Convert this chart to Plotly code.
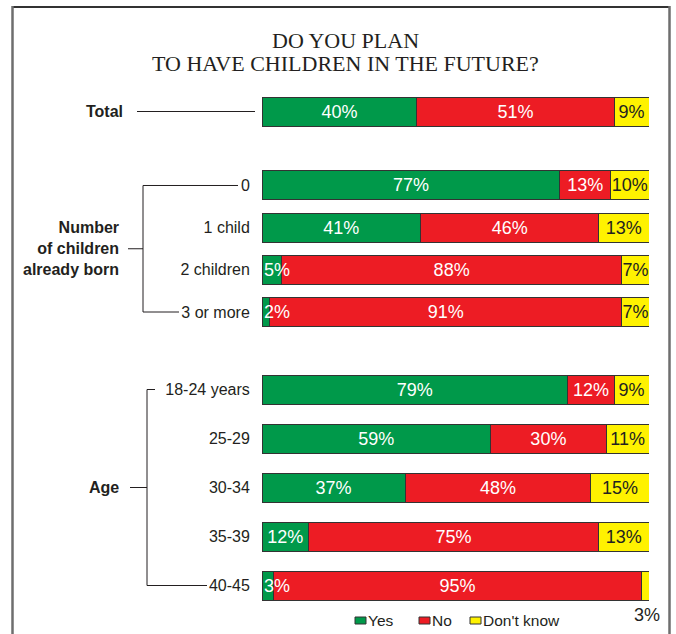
import plotly.graph_objects as go

# ---- data ----
title_lines = ["DO YOU PLAN", "TO HAVE CHILDREN IN THE FUTURE?"]
series = ["Yes", "No", "Don't know"]
series_colors = ["#00994A", "#ED1C24", "#FFF200"]
label_colors = ["white", "white", "#231F20"]

total_rows = ["Total"]
total_yes = [40]
total_no = [51]
total_dk = [9]

children_title = "Number<br>of children<br>already born"
children_rows = ["0", "1 child", "2 children", "3 or more"]
children_yes = [77, 41, 5, 2]
children_no = [13, 46, 88, 91]
children_dk = [10, 13, 7, 7]

age_title = "Age"
age_rows = ["18-24 years", "25-29", "30-34", "35-39", "40-45"]
age_yes = [79, 59, 37, 12, 3]
age_no = [12, 30, 48, 75, 95]
age_dk = [9, 11, 15, 13, 3]

# ---- layout helpers (pixel -> paper) ----
W, H = 676, 634
def px(x):
    return x / W
def py(y):
    return 1 - y / H

INK = "#231F20"
FONT = "Liberation Sans, Arial, sans-serif"
X_DOMAIN = [px(262), px(649)]
BAR_PX = 29
MIN_INSIDE = 6  # segments narrower than this get their label placed outside the bar

groups = [
    # (axis suffix, rows, series values, top px, bottom px, show tick labels)
    ("", total_rows, [total_yes, total_no, total_dk], 90.3, 132.7, False),
    ("2", children_rows, [children_yes, children_no, children_dk], 164.4, 333.1, True),
    ("3", age_rows, [age_yes, age_no, age_dk], 365.0, 610.0, True),
]

fig = go.Figure()
annotations = []
shapes = []

for suffix, rows, values, top, bottom, show_ticks in groups:
    n = len(rows)
    step = (bottom - top) / n
    width = BAR_PX / step
    xa, ya = "x" + suffix, "y" + suffix
    for s, (name, vals) in enumerate(zip(series, values)):
        positions = ["inside" if v >= MIN_INSIDE else "none" for v in vals]
        fig.add_trace(go.Bar(
            name=name, orientation="h", x=vals, y=rows,
            xaxis=xa, yaxis=ya, width=width,
            marker=dict(color=series_colors[s], line=dict(color="#333333", width=1)),
            text=[f"{v}%" for v in vals], textposition=positions, textangle=0,
            insidetextanchor="middle", constraintext="none",
            textfont=dict(family=FONT, size=18, color=label_colors[s]),
            showlegend=False, hoverinfo="skip",
        ))
    # labels of narrow segments
    for i, row in enumerate(rows):
        start = 0
        for s, vals in enumerate(values):
            v = vals[i]
            if v < MIN_INSIDE:
                if s == 0:
                    annotations.append(dict(
                        x=start, y=i, xref=xa, yref=ya, text=f"{v}%",
                        xanchor="left", yanchor="middle", showarrow=False,
                        font=dict(family=FONT, size=18, color=label_colors[s])))
                else:
                    annotations.append(dict(
                        x=start + v / 2, y=i, xref=xa, yref=ya, text=f"{v}%",
                        xanchor="center", yanchor="top", yshift=-17, showarrow=False,
                        font=dict(family=FONT, size=18, color=INK)))
            start += v

    fig.update_layout({
        "xaxis" + suffix: dict(domain=X_DOMAIN, range=[0, 100], visible=False,
                               anchor=ya, fixedrange=True),
        "yaxis" + suffix: dict(domain=[py(bottom), py(top)], type="category",
                               categoryorder="array", categoryarray=rows,
                               range=[n - 0.5, -0.5], anchor=xa,
                               showgrid=False, zeroline=False, showline=False,
                               showticklabels=show_ticks, ticks="outside",
                               ticklen=8, tickcolor="rgba(0,0,0,0)",
                               tickfont=dict(family=FONT, size=16, color=INK)),
    })

# ---- group labels and brackets ----
line = dict(color=INK, width=1)

annotations.append(dict(x=px(125), y=0, xref="paper", yref="y", text="<b>Total</b>",
                        xanchor="right", yanchor="middle", showarrow=False,
                        font=dict(family=FONT, size=16, color=INK)))
shapes.append(dict(type="line", xref="paper", yref="y", x0=px(137), x1=px(255),
                   y0=0, y1=0, line=line))

def bracket(ya, rows, label, x_vert, x_stub0, x_top_end, x_bot_end):
    last = len(rows) - 1
    annotations.append(dict(x=px(121), y=0.5, xref="paper", yref=ya + " domain",
                            text=f"<b>{label}</b>", xanchor="right", yanchor="middle",
                            align="right", showarrow=False,
                            font=dict(family=FONT, size=16, color=INK)))
    shapes.extend([
        dict(type="line", xref="paper", yref=ya + " domain", x0=px(x_stub0), x1=px(x_vert),
             y0=0.5, y1=0.5, line=line),
        dict(type="line", xref="paper", yref=ya, x0=px(x_vert), x1=px(x_vert),
             y0=0, y1=last, line=line),
        dict(type="line", xref="paper", yref=ya, x0=px(x_vert), x1=px(x_top_end),
             y0=0, y1=0, line=line),
        dict(type="line", xref="paper", yref=ya, x0=px(x_vert), x1=px(x_bot_end),
             y0=last, y1=last, line=line),
    ])

bracket("y2", children_rows, children_title, 143, 128, 238, 179)
bracket("y3", age_rows, age_title, 147, 130, 155, 207)

# ---- title ----
for text, y in zip(title_lines, [40, 63]):
    annotations.append(dict(x=px(345), y=py(y), xref="paper", yref="paper", text=text,
                            xanchor="center", yanchor="middle", showarrow=False,
                            font=dict(family="Liberation Serif, Times New Roman, serif",
                                      size=22, color=INK)))

# ---- legend ----
legend_x = [355, 419, 470]
for name, color, x0 in zip(series, series_colors, legend_x):
    shapes.append(dict(type="rect", xref="paper", yref="paper",
                       x0=px(x0), x1=px(x0 + 11), y0=py(624), y1=py(617),
                       fillcolor=color, line=dict(color="#333333", width=1)))
    annotations.append(dict(x=px(x0 + 11), y=py(620.5), xref="paper", yref="paper",
                            text=name, xanchor="left", yanchor="middle", showarrow=False,
                            font=dict(family=FONT, size=15.5, color=INK)))

# ---- frame ----
shapes.extend([
    dict(type="line", xref="paper", yref="paper", x0=px(12), x1=px(670),
         y0=py(7), y1=py(7), line=dict(color="#333333", width=2)),
    dict(type="line", xref="paper", yref="paper", x0=px(12.5), x1=px(12.5),
         y0=py(6), y1=0, line=dict(color="#6E6E6E", width=2.5)),
    dict(type="line", xref="paper", yref="paper", x0=px(669.5), x1=px(669.5),
         y0=py(6), y1=0, line=dict(color="#6E6E6E", width=2.5)),
])

fig.update_layout(
    width=W, height=H, margin=dict(l=0, r=0, t=0, b=0),
    barmode="stack", plot_bgcolor="white", paper_bgcolor="white",
    annotations=annotations, shapes=shapes, showlegend=False,
)

fig.write_html("out.html", config={"displayModeBar": False})
